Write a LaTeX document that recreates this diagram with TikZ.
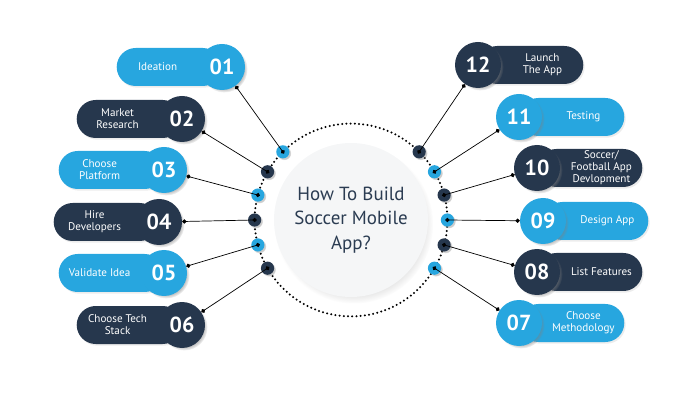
\documentclass[tikz,border=0pt]{standalone}
\usepackage{fontspec}
\setmainfont{PT Sans}
\usetikzlibrary{positioning,calc,shadows,arrows.meta}
\definecolor{AppBlue}{RGB}{39,166,223}
\definecolor{AppNavy}{RGB}{38,55,77}
\definecolor{HubGray}{RGB}{245,246,247}
\definecolor{HubText}{RGB}{43,60,82}

\tikzset{
    numcircle/.style={circle, fill=#1, minimum size=1.15cm, inner sep=0pt,
        text=white, font=\fontsize{15.5}{15.5}\selectfont\bfseries,
        circular drop shadow={shadow xshift=1.5pt, shadow yshift=-1.5pt, shadow scale=1.02, opacity=0.45}},
    pill/.style={rectangle, rounded corners=0.475cm, fill=#1, minimum height=0.95cm,
        minimum width=2.625cm, inner sep=0pt,
        drop shadow={shadow xshift=1pt, shadow yshift=-1.2pt, opacity=0.15}},
    pilltext/.style={text=white, align=center, font=\fontsize{7.9}{8.6}\selectfont},
    ringdot/.style={circle, fill=#1, minimum size=0.33cm, inner sep=0pt,
        circular drop shadow={shadow xshift=1pt, shadow yshift=-1pt, shadow scale=1.05, opacity=0.4}},
    ringline/.style={line width=1.6pt, dash pattern=on 0pt off 3pt, line cap=round},
    conn/.style={black, line width=0.5pt, {Circle[length=3pt]}-{Circle[length=3pt]}, shorten >=-1.5pt},
    hub/.style={circle, fill=HubGray, minimum size=3.85cm, inner sep=0pt, align=center,
        text=HubText, font=\fontsize{13.5}{17.4}\selectfont,
        circular drop shadow={shadow xshift=2pt, shadow yshift=-3pt, shadow scale=1.03, opacity=0.25}}
}

\begin{document}
\begin{tikzpicture}
    \useasboundingbox (0,0) rectangle (17.5,-10);

    % centre and dotted ring
    \node[hub] (hub) at (8.775,-5.5) {How To Build\\Soccer Mobile\\App?};
    \draw[ringline] (hub.center) circle (2.41);

    % left steps
    \foreach \num/\x/\y/\ang/\col/\txt in {
            01/5.55/-1.675/135/AppBlue/{Ideation},
            02/4.55/-2.975/150/AppNavy/{Market\\Research},
            03/4.1/-4.25/165/AppBlue/{Choose\\Platform},
            04/3.975/-5.55/180/AppNavy/{Hire\\Developers},
            05/4.1/-6.825/195/AppBlue/{Validate Idea},
            06/4.55/-8.125/210/AppNavy/{Choose Tech\\Stack}} {
        \node[pill=\col, anchor=east] (p\num) at (\x,\y) {};
        \node[numcircle=\col] (n\num) at (\x,\y) {\num};
        \node[pilltext] (t\num) at ($(p\num.west)!0.5!(n\num.west)$) {\txt};
        \node[ringdot=\col] (d\num) at ($(hub.center)+(\ang:2.41)$) {};
        \draw[conn] (n\num) -- (d\num.center);
    }

    % right steps
    \foreach \num/\x/\y/\ang/\col/\txt in {
            12/11.95/-1.625/45/AppNavy/{Launch\\The App},
            11/12.975/-2.925/30/AppBlue/{Testing},
            10/13.425/-4.2/15/AppNavy/{Soccer/\\Football App\\Devlopment},
            09/13.575/-5.525/0/AppBlue/{Design App},
            08/13.425/-6.8/-15/AppNavy/{List Features},
            07/12.975/-8.075/-30/AppBlue/{Choose\\Methodology}} {
        \node[pill=\col, anchor=west] (p\num) at (\x,\y) {};
        \node[numcircle=\col] (n\num) at (\x,\y) {\num};
        \node[pilltext] (t\num) at ($(n\num.east)!0.5!(p\num.east)$) {\txt};
        \node[ringdot=\col] (d\num) at ($(hub.center)+(\ang:2.41)$) {};
        \draw[conn] (n\num) -- (d\num.center);
    }
\end{tikzpicture}
\end{document}
